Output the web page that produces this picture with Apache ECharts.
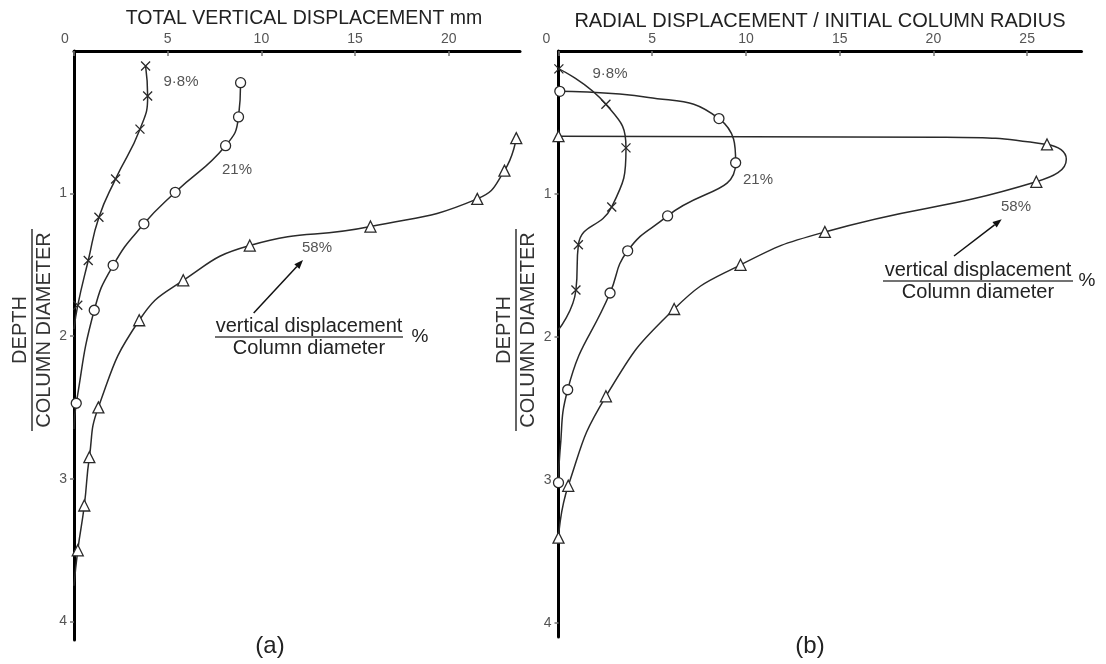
<!DOCTYPE html>
<html>
<head>
<meta charset="utf-8">
<script src="https://cdn.jsdelivr.net/npm/echarts@6/dist/echarts.min.js"></script>
<style>
  html, body { margin: 0; padding: 0; background: #fff; }
  #chart { width: 1106px; height: 664px; }
</style>
</head>
<body>
<div id="chart"></div>
<script>
// ---- axis ticks ----
const verticalTicks = [0, 5, 10, 15, 20];
const radialTicks = [0, 5, 10, 15, 20, 25];
const depthTicks = [1, 2, 3, 4];

// ---- (a) total vertical displacement, mm ----
// 9.8 % settlement (crosses)
const a98Depth = [0.105, 0.315, 0.548, 0.897, 1.166, 1.469, 1.783];
const a98Disp  = [3.82, 3.93, 3.52, 2.22, 1.33, 0.76, 0.20];
const a98BendDepth = [1.95];
const a98BendDisp  = [0];
// 21 % settlement (circles)
const a21Depth = [0.222, 0.462, 0.664, 0.991, 1.212, 1.503, 1.818, 2.47];
const a21Disp  = [8.89, 8.78, 8.09, 5.40, 3.73, 2.09, 1.08, 0.12];
const a21BendDepth = [2.65];
const a21BendDisp  = [0];
// 58 % settlement (triangles)
const a58Depth = [0.611, 0.839, 1.037, 1.231, 1.364, 1.608, 1.888, 2.499, 2.848, 3.187, 3.501];
const a58Disp  = [23.6, 22.97, 21.52, 15.82, 9.38, 5.83, 3.48, 1.30, 0.82, 0.55, 0.20];
const a58BendDepth = [3.75];
const a58BendDisp  = [0];

// ---- (b) radial displacement / initial column radius ----
const b98Depth = [0.125, 0.373, 0.678, 1.091, 1.356, 1.672];
const b98Disp  = [0.02, 2.53, 3.60, 2.84, 1.06, 0.93];
const b98BendDepth = [1.95];
const b98BendDisp  = [0];

const b21Depth = [0.282, 0.473, 0.782, 1.154, 1.398, 1.693, 2.37, 3.02];
const b21Disp  = [0.07, 8.56, 9.45, 5.82, 3.69, 2.75, 0.49, 0];
const b21BendDepth = [0.325, 2.80];
const b21BendDisp  = [4.8, 0.08];

const b58Depth = [0.596, 0.654, 0.915, 1.266, 1.496, 1.805, 2.416, 3.042, 3.405];
const b58Disp  = [0, 26.06, 25.49, 14.21, 9.71, 6.17, 2.53, 0.52, 0];
const b58BendDepth = [0.603, 0.757];
const b58BendDisp  = [20.33, 27.09];

const pairs = (xs, ys) => xs.map((x, i) => [x, ys[i]]);
// the drawn curve passes through the marked points and the extra bend points, ordered by depth
const trace = (mx, my, bx, by) =>
  pairs(mx, my).concat(pairs(bx, by)).sort((p, q) => p[1] - q[1]);

const INK = '#2a2a2a';
const CROSS = 'path://M0,0L10,10M0,10L10,0';

function curve(grid, mx, my, bx, by, symbol, size) {
  return [
    {
      type: 'line', xAxisIndex: grid, yAxisIndex: grid,
      data: trace(mx, my, bx, by),
      smooth: 0.5, showSymbol: false, silent: true,
      lineStyle: { color: INK, width: 1.5 }, z: 2
    },
    {
      type: 'scatter', xAxisIndex: grid, yAxisIndex: grid,
      data: pairs(mx, my), symbol: symbol, symbolSize: size, silent: true,
      itemStyle: { color: '#fff', opacity: 1, borderColor: INK, borderWidth: 1.3 }, z: 3
    }
  ];
}

const tickLabel = { color: '#555', fontSize: 14, fontFamily: 'Liberation Sans' };

function xAxis(grid, max, ticks, zeroShift) {
  return {
    gridIndex: grid, type: 'value', position: 'top', min: 0, max: max,
    axisLine: { lineStyle: { color: '#000', width: 3 } },
    axisTick: { inside: true, length: 5, customValues: ticks, lineStyle: { color: '#777', width: 1.5 } },
    axisLabel: Object.assign({
      customValues: ticks, margin: 5,
      formatter: v => (v === 0 ? '{z|0}' : String(v)),
      rich: { z: Object.assign({ padding: [0, zeroShift, 0, 0] }, tickLabel) }
    }, tickLabel),
    splitLine: { show: false }
  };
}

function yAxis(grid, max) {
  return {
    gridIndex: grid, type: 'value', inverse: true, min: 0, max: max,
    axisLine: { lineStyle: { color: '#000', width: 3 } },
    axisTick: { length: 4, customValues: depthTicks, lineStyle: { color: '#777', width: 1.5 } },
    axisLabel: Object.assign({ customValues: depthTicks, margin: 7 }, tickLabel),
    splitLine: { show: false }
  };
}

const font = (size, color) => ({ fontSize: size, fontFamily: 'Liberation Sans', fill: color });

function text(str, x, y, size, color) {
  return {
    type: 'text', x: x, y: y, silent: true,
    style: Object.assign({ text: str, align: 'center', verticalAlign: 'middle',
      textAlign: 'center', textVerticalAlign: 'middle' }, font(size, color))
  };
}

function depthTitle(x, y) {
  return {
    type: 'group', x: x, y: y, rotation: Math.PI / 2, silent: true,
    children: [
      text('DEPTH', 0, -12, 20, '#333'),
      { type: 'line', shape: { x1: -101, y1: 0, x2: 101, y2: 0 }, style: { stroke: '#333', lineWidth: 1.5 } },
      text('COLUMN DIAMETER', 0, 12, 20, '#333')
    ]
  };
}

function fraction(cx, cy, lineHalf, pctX) {
  return [
    text('vertical displacement', cx, cy - 11, 20, '#222'),
    { type: 'line', silent: true, shape: { x1: cx - lineHalf, y1: cy, x2: cx + lineHalf, y2: cy },
      style: { stroke: '#444', lineWidth: 1.6 } },
    text('Column diameter', cx, cy + 11, 20, '#222'),
    text('%', pctX, cy, 19, '#222')
  ];
}

function arrow(x1, y1, x2, y2) {
  const a = Math.atan2(y2 - y1, x2 - x1), L = 9, W = 3.5;
  const bx = x2 - L * Math.cos(a), by = y2 - L * Math.sin(a);
  return [
    { type: 'line', silent: true, shape: { x1: x1, y1: y1, x2: bx, y2: by }, style: { stroke: '#111', lineWidth: 1.5 } },
    { type: 'polygon', silent: true,
      shape: { points: [[x2, y2], [bx - W * Math.sin(a), by + W * Math.cos(a)], [bx + W * Math.sin(a), by - W * Math.cos(a)]] },
      style: { fill: '#111' } }
  ];
}

const option = {
  animation: false,
  backgroundColor: '#fff',
  grid: [
    { left: 74, top: 51, width: 446, height: 589 },
    { left: 558.5, top: 51, width: 523, height: 586 }
  ],
  xAxis: [
    xAxis(0, 23.8, verticalTicks, 18),
    xAxis(1, 27.9, radialTicks, 24)
  ],
  yAxis: [yAxis(0, 4.13), yAxis(1, 4.1)],
  series: [].concat(
    curve(0, a98Disp, a98Depth, a98BendDisp, a98BendDepth, CROSS, 9),
    curve(0, a21Disp, a21Depth, a21BendDisp, a21BendDepth, 'circle', 10),
    curve(0, a58Disp, a58Depth, a58BendDisp, a58BendDepth, 'triangle', 11),
    curve(1, b98Disp, b98Depth, b98BendDisp, b98BendDepth, CROSS, 9),
    curve(1, b21Disp, b21Depth, b21BendDisp, b21BendDepth, 'circle', 10),
    curve(1, b58Disp, b58Depth, b58BendDisp, b58BendDepth, 'triangle', 11)
  ),
  graphic: [].concat(
    [
      text('TOTAL VERTICAL DISPLACEMENT mm', 304, 19, 19.5, '#222'),
      text('RADIAL DISPLACEMENT / INITIAL COLUMN RADIUS', 820, 21, 20, '#222'),
      depthTitle(32, 330),
      depthTitle(516, 330),
      text('9·8%', 181, 82, 15, '#555'),
      text('21%', 237, 170, 15, '#555'),
      text('58%', 317, 248, 15, '#555'),
      text('9·8%', 610, 74, 15, '#555'),
      text('21%', 758, 180, 15, '#555'),
      text('58%', 1016, 207, 15, '#555'),
      text('(a)', 270, 646, 24, '#222'),
      text('(b)', 810, 646, 24, '#222')
    ],
    fraction(309, 337, 94, 420),
    fraction(978, 281, 95, 1087),
    arrow(253.7, 313, 303, 260),
    arrow(954, 256, 1001.7, 219.3)
  )
};

const chart = echarts.init(document.getElementById('chart'), null, { renderer: 'canvas' });
chart.setOption(option);
</script>
</body>
</html>
